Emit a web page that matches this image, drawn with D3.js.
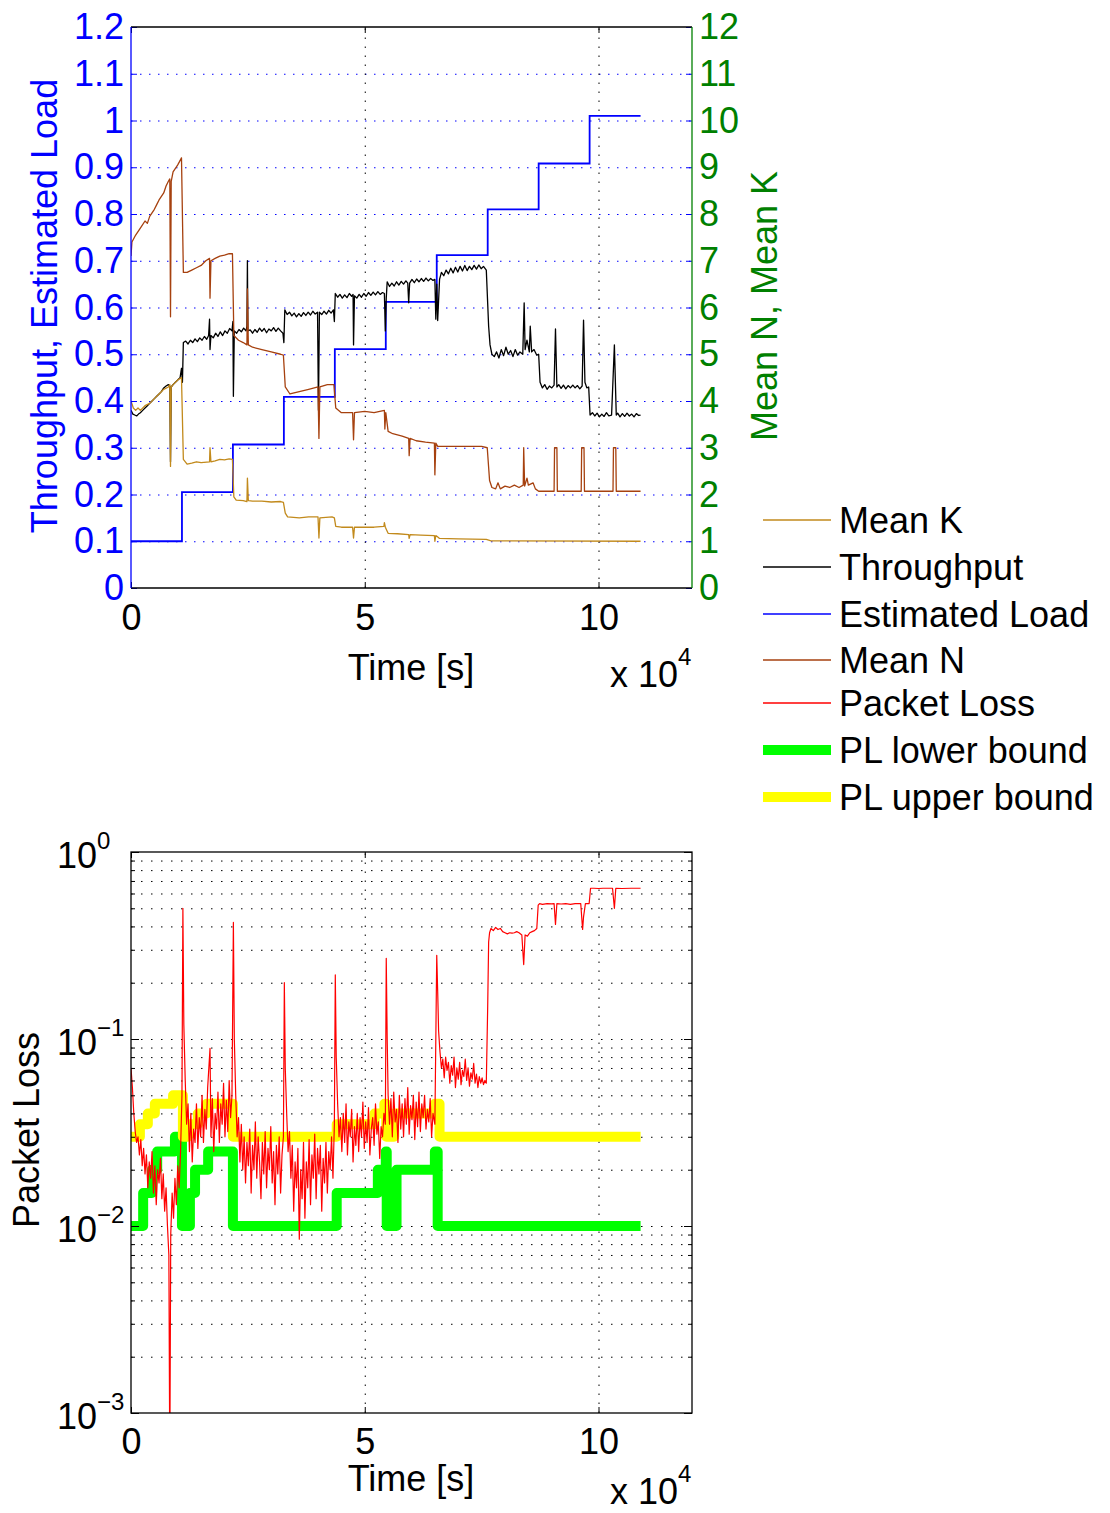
<!DOCTYPE html>
<html><head><meta charset="utf-8">
<script src="https://cdn.jsdelivr.net/npm/d3@7"></script>
<style>
body{margin:0;background:#fff}
svg{display:block}
text{font-family:"Liberation Sans",Arial,Helvetica,sans-serif}
</style>
</head><body>
<svg id="chart" width="1110" height="1513"></svg>
<script>
// ---------------- DATA (time in units of 10^4 s) ----------------
const xTicks = [0, 5, 10];
const leftTicks = [0,0.1,0.2,0.3,0.4,0.5,0.6,0.7,0.8,0.9,1,1.1,1.2];
const rightTicks = [0,1,2,3,4,5,6,7,8,9,10,11,12];
const logTicks = [1e-3, 1e-2, 1e-1, 1];
const logTickExp = ["\u22123", "\u22122", "\u22121", "0"];

// Estimated Load (left axis), step-after
const loadT = [0, 1.09, 2.18, 3.27, 4.36, 5.45, 6.54, 7.63, 8.72, 9.81, 10.9];
const loadV = [0.1, 0.205, 0.307, 0.409, 0.511, 0.612, 0.712, 0.81, 0.908, 1.01, 1.01];

// Throughput (left axis)
const thrT = [0,0.04,0.08,0.12,0.16,0.2,0.25,0.3,0.35,0.4,0.45,0.5,0.55,0.6,0.65,0.7,0.75,0.8,0.83,0.845,0.86,0.9,0.95,1.0,1.05,1.08,1.1,1.12,
 1.17,1.22,1.27,1.32,1.37,1.42,1.47,1.52,1.57,1.62,1.66,1.68,1.69,1.71,1.76,1.81,1.86,1.91,1.96,2.01,2.06,2.11,2.16,2.18,2.19,2.21,
 2.26,2.31,2.36,2.41,2.46,2.48,2.49,2.5,2.55,2.6,2.65,2.7,2.75,2.8,2.85,2.9,2.95,3.0,3.05,3.1,3.15,3.2,3.25,3.27,3.29,
 3.34,3.39,3.44,3.49,3.54,3.59,3.64,3.69,3.74,3.79,3.84,3.89,3.94,3.99,4.01,4.03,4.08,4.13,4.18,4.23,4.28,4.33,4.35,4.37,
 4.42,4.47,4.52,4.57,4.62,4.67,4.72,4.75,4.76,4.78,4.83,4.88,4.93,4.98,5.03,5.08,5.13,5.18,5.23,5.28,5.33,5.38,5.42,5.44,5.46,5.48,
 5.53,5.58,5.63,5.68,5.73,5.78,5.83,5.88,5.92,5.94,5.96,6.01,6.06,6.11,6.16,6.21,6.26,6.31,6.36,6.41,6.46,6.5,6.52,6.54,6.56,6.6,
 6.64,6.69,6.74,6.79,6.84,6.89,6.94,6.99,7.04,7.09,7.14,7.19,7.24,7.29,7.34,7.39,7.44,7.49,7.54,7.6,7.65,7.68,7.72,
 7.77,7.82,7.87,7.92,7.97,8.02,8.07,8.12,8.17,8.22,8.27,8.32,8.38,8.41,8.43,8.47,8.52,8.54,8.57,8.62,8.68,8.72,8.75,
 8.8,8.85,8.9,8.95,9.0,9.05,9.08,9.11,9.15,9.2,9.25,9.3,9.35,9.4,9.45,9.5,9.55,9.6,9.65,9.68,9.71,9.75,9.79,9.82,
 9.87,9.92,9.97,10.02,10.07,10.12,10.17,10.22,10.28,10.34,10.38,10.41,10.46,10.51,10.56,10.61,10.66,10.71,10.76,10.81,10.86,10.9];
const thrV = [0.38,0.372,0.37,0.368,0.372,0.375,0.38,0.385,0.39,0.395,0.4,0.405,0.41,0.415,0.42,0.428,0.432,0.435,0.432,0.27,0.43,0.435,0.44,0.445,0.45,0.47,0.44,0.525,
 0.528,0.522,0.53,0.525,0.533,0.527,0.535,0.53,0.538,0.532,0.54,0.575,0.51,0.54,0.535,0.545,0.538,0.548,0.54,0.55,0.545,0.555,0.55,0.57,0.41,0.55,
 0.545,0.553,0.548,0.556,0.55,0.56,0.70,0.55,0.552,0.545,0.553,0.547,0.556,0.549,0.555,0.546,0.554,0.55,0.557,0.549,0.556,0.55,0.545,0.525,0.595,
 0.585,0.59,0.582,0.588,0.58,0.587,0.581,0.589,0.583,0.59,0.584,0.592,0.586,0.59,0.38,0.59,0.585,0.592,0.586,0.594,0.588,0.595,0.57,0.63,
 0.622,0.628,0.62,0.627,0.621,0.63,0.624,0.628,0.52,0.625,0.62,0.628,0.622,0.63,0.624,0.632,0.626,0.633,0.627,0.634,0.628,0.632,0.63,0.55,0.62,0.655,
 0.645,0.652,0.646,0.655,0.648,0.656,0.65,0.657,0.652,0.61,0.652,0.66,0.653,0.661,0.655,0.662,0.656,0.663,0.657,0.662,0.658,0.66,0.575,0.65,0.572,0.66,
 0.675,0.668,0.68,0.672,0.684,0.674,0.686,0.676,0.688,0.678,0.69,0.679,0.688,0.681,0.69,0.682,0.691,0.683,0.688,0.68,0.56,0.52,0.5,
 0.495,0.505,0.492,0.51,0.497,0.515,0.5,0.508,0.495,0.51,0.498,0.505,0.5,0.61,0.51,0.53,0.505,0.56,0.505,0.51,0.498,0.5,0.44,
 0.428,0.435,0.425,0.432,0.428,0.434,0.554,0.43,0.435,0.427,0.434,0.426,0.433,0.428,0.434,0.428,0.433,0.426,0.432,0.573,0.44,0.428,0.43,0.37,
 0.375,0.368,0.374,0.366,0.372,0.367,0.375,0.368,0.37,0.52,0.37,0.374,0.366,0.373,0.367,0.374,0.368,0.372,0.366,0.373,0.369,0.37];

// Mean N (right axis)
const meanNT = [0,0.02,0.1,0.2,0.3,0.35,0.4,0.5,0.55,0.6,0.7,0.75,0.8,0.83,0.845,0.86,0.9,1.0,1.08,1.12,1.2,1.3,1.4,1.5,1.6,1.68,1.69,1.71,1.8,1.9,2.0,2.1,2.17,
 2.2,2.3,2.4,2.48,2.49,2.51,2.6,2.8,3.0,3.2,3.26,3.3,3.4,3.6,3.8,4.0,4.02,4.04,4.2,4.34,4.38,4.5,4.74,4.76,4.78,5.0,5.2,5.42,5.43,5.45,
 5.5,5.6,5.8,5.94,5.95,5.97,6.1,6.3,6.49,6.5,6.52,6.56,7.0,7.5,7.62,7.67,7.72,7.8,7.85,7.9,8.0,8.1,8.2,8.3,8.39,8.4,8.42,8.47,8.5,8.6,8.65,8.72,
 9.05,9.06,9.11,9.12,9.63,9.64,9.69,9.7,10.31,10.32,10.37,10.38,10.9];
const meanNV = [7.1,7.4,7.55,7.7,7.85,7.8,7.95,8.1,8.2,8.3,8.45,8.6,8.7,8.75,5.8,8.7,8.9,9.05,9.2,6.75,6.75,6.8,6.85,6.9,7.0,7.05,6.2,7.0,7.05,7.1,7.12,7.15,7.15,
 5.4,5.3,5.25,5.2,6.4,5.2,5.15,5.1,5.05,5.0,4.98,4.3,4.15,4.2,4.25,4.3,3.2,4.3,4.35,4.35,3.85,3.75,3.75,3.17,3.75,3.78,3.75,3.8,3.4,3.75,
 3.35,3.3,3.25,3.2,2.83,3.2,3.15,3.12,3.1,2.42,3.1,3.03,3.03,3.03,3.0,2.3,2.15,2.12,2.25,2.12,2.18,2.15,2.2,2.15,2.2,3.0,2.18,2.35,2.2,2.25,2.12,2.07,
 2.07,3.0,3.0,2.07,2.07,3.0,3.0,2.07,2.07,3.0,3.0,2.07,2.07];

// Mean K (right axis)
const meanKT = [0,0.05,0.1,0.15,0.2,0.3,0.4,0.5,0.6,0.7,0.8,0.83,0.845,0.86,0.9,1.0,1.08,1.12,1.2,1.3,1.4,1.5,1.68,1.69,1.71,1.8,1.9,2.0,2.1,2.17,
 2.2,2.25,2.4,2.48,2.49,2.51,2.6,2.8,3.0,3.2,3.26,3.3,3.35,3.6,3.8,4.0,4.02,4.04,4.3,4.35,4.38,4.5,4.74,4.76,4.78,5.0,5.2,5.41,5.42,5.44,5.45,
 5.5,5.7,5.94,5.95,5.97,6.2,6.49,6.5,6.52,6.55,6.6,7.0,7.6,7.7,10.9];
const meanKV = [4.0,3.85,3.8,3.85,3.8,3.9,3.95,4.05,4.15,4.25,4.3,4.35,2.6,4.3,4.35,4.45,4.5,2.75,2.65,2.67,2.7,2.68,2.7,3.0,2.7,2.72,2.75,2.74,2.76,2.75,
 1.95,1.88,1.87,1.85,2.35,1.87,1.86,1.86,1.84,1.85,1.83,1.6,1.52,1.5,1.52,1.52,1.07,1.5,1.52,1.5,1.32,1.3,1.3,1.07,1.3,1.3,1.3,1.32,1.4,1.3,1.28,
 1.17,1.16,1.14,1.06,1.14,1.13,1.12,1.0,1.12,1.1,1.06,1.05,1.04,1.01,1.0];

// Packet Loss (log axis)
const plT = [0,0.03,0.06,0.09,0.12,0.15,0.18,0.21,0.24,0.27,0.3,0.33,0.36,0.39,0.42,0.45,0.48,0.51,0.54,0.57,0.6,0.63,0.66,0.69,0.72,0.75,0.78,0.81,0.83,0.85,0.88,0.91,0.94,0.97,1.0,1.03,1.06,1.09,1.11,1.13,1.16,1.19,
 1.22,1.25,1.28,1.31,1.34,1.37,1.4,1.43,1.46,1.49,1.52,1.55,1.58,1.61,1.64,1.69,1.71,1.74,1.77,1.8,1.83,1.86,1.89,1.92,1.95,1.98,2.01,2.04,2.07,2.1,2.13,2.16,2.19,2.21,2.24,
 2.27,2.3,2.33,2.36,2.39,2.42,2.45,2.48,2.51,2.54,2.57,2.6,2.63,2.66,2.69,2.72,2.75,2.78,2.81,2.84,2.87,2.9,2.93,2.96,2.99,3.02,3.05,3.08,3.11,3.14,3.17,3.2,3.23,3.26,3.28,3.3,
 3.33,3.36,3.39,3.42,3.45,3.48,3.51,3.54,3.57,3.6,3.63,3.66,3.69,3.72,3.75,3.78,3.81,3.84,3.87,3.9,3.93,3.96,3.99,4.02,4.05,4.08,4.11,4.14,4.17,4.2,4.23,4.26,4.29,4.32,4.35,4.37,4.39,
 4.42,4.45,4.48,4.51,4.54,4.57,4.6,4.63,4.66,4.69,4.72,4.75,4.78,4.81,4.84,4.87,4.9,4.93,4.96,4.99,5.02,5.05,5.08,5.11,5.14,5.17,5.2,5.23,5.26,5.29,5.32,5.35,5.38,5.41,5.44,5.46,5.48,
 5.5,5.53,5.56,5.59,5.62,5.65,5.68,5.71,5.74,5.77,5.8,5.83,5.86,5.89,5.92,5.95,5.98,6.01,6.04,6.07,6.1,6.13,6.16,6.19,6.22,6.25,6.28,6.31,6.34,6.37,6.4,6.43,6.46,6.5,6.54,6.56,6.58,
 6.61,6.64,6.67,6.7,6.73,6.76,6.79,6.82,6.85,6.88,6.91,6.94,6.97,7.0,7.03,7.06,7.09,7.12,7.15,7.18,7.21,7.24,7.27,7.3,7.33,7.36,7.39,7.42,7.45,7.48,7.51,7.54,7.57,7.6,7.63,7.65,7.67,
 7.7,7.75,7.8,7.85,7.9,7.95,8.0,8.05,8.1,8.15,8.2,8.25,8.3,8.36,8.4,8.43,8.48,8.53,8.58,8.63,8.68,8.71,8.74,8.8,8.9,9.0,9.05,9.08,9.11,9.2,9.3,9.4,9.5,9.62,9.66,9.68,9.72,9.8,9.83,
 9.9,10.0,10.1,10.3,10.34,10.37,10.5,10.7,10.9];
const plV = [0.07,0.055,0.04,0.032,0.028,0.03,0.024,0.029,0.021,0.026,0.019,0.024,0.016,0.022,0.018,0.025,0.015,0.021,0.013,0.02,0.017,0.023,0.014,0.019,0.012,0.016,0.01,0.007,0.0005,0.009,0.015,0.011,0.018,0.013,0.021,0.016,0.025,0.05,0.5,0.12,0.06,0.035,
 0.045,0.025,0.04,0.022,0.033,0.028,0.045,0.026,0.038,0.03,0.05,0.028,0.042,0.033,0.055,0.089,0.03,0.048,0.025,0.04,0.033,0.052,0.028,0.045,0.035,0.058,0.03,0.047,0.032,0.06,0.038,0.05,0.42,0.1,0.05,
 0.03,0.038,0.022,0.035,0.02,0.03,0.017,0.028,0.021,0.033,0.015,0.027,0.02,0.036,0.018,0.03,0.022,0.014,0.028,0.019,0.032,0.016,0.026,0.02,0.034,0.017,0.025,0.013,0.027,0.019,0.03,0.015,0.024,0.03,0.2,0.07,
 0.04,0.025,0.032,0.018,0.027,0.012,0.022,0.016,0.026,0.0085,0.02,0.014,0.028,0.011,0.022,0.016,0.029,0.013,0.024,0.018,0.031,0.014,0.026,0.019,0.027,0.012,0.023,0.017,0.028,0.015,0.025,0.02,0.03,0.018,0.035,0.22,0.08,
 0.045,0.03,0.038,0.025,0.04,0.028,0.045,0.024,0.036,0.03,0.042,0.022,0.034,0.027,0.04,0.025,0.038,0.03,0.046,0.026,0.036,0.028,0.043,0.024,0.033,0.038,0.027,0.045,0.031,0.036,0.023,0.034,0.03,0.04,0.035,0.27,0.1,
 0.05,0.035,0.048,0.03,0.052,0.036,0.042,0.028,0.05,0.033,0.045,0.03,0.048,0.035,0.055,0.031,0.044,0.037,0.05,0.029,0.046,0.034,0.052,0.032,0.045,0.038,0.05,0.033,0.042,0.036,0.048,0.03,0.04,0.035,0.28,0.18,0.11,
 0.085,0.07,0.078,0.062,0.08,0.068,0.075,0.058,0.072,0.064,0.08,0.055,0.07,0.061,0.075,0.057,0.068,0.063,0.078,0.06,0.07,0.056,0.066,0.061,0.074,0.058,0.065,0.055,0.063,0.058,0.062,0.057,0.06,0.058,0.15,0.33,0.37,
 0.39,0.38,0.395,0.385,0.39,0.375,0.37,0.365,0.37,0.368,0.37,0.375,0.37,0.36,0.25,0.36,0.355,0.37,0.375,0.38,0.39,0.52,0.53,0.525,0.53,0.528,0.53,0.41,0.53,0.527,0.53,0.525,0.53,0.53,0.385,0.45,0.53,0.53,0.64,
 0.64,0.638,0.64,0.64,0.5,0.64,0.638,0.64,0.64];

// PL lower bound (step-after)
const plLowT = [0,0.26,0.45,0.56,0.94,1.09,1.26,1.37,1.65,2.18,4.4,5.28,5.45,5.47,5.68,6.5,6.56,10.9];
const plLowV = [0.01,0.015,0.02,0.025,0.03,0.01,0.015,0.02,0.025,0.01,0.015,0.02,0.025,0.01,0.02,0.025,0.01,0.01];
// PL upper bound (step-after)
const plUpT = [0,0.19,0.36,0.51,0.9,1.11,1.22,1.43,1.62,2.18,4.4,5.21,5.42,5.46,5.63,6.5,6.6,10.9];
const plUpV = [0.03,0.035,0.04,0.045,0.05,0.03,0.035,0.04,0.045,0.03,0.035,0.04,0.045,0.03,0.04,0.045,0.03,0.03];

const legendLabels = ["Mean K","Throughput","Estimated Load","Mean N","Packet Loss","PL lower bound","PL upper bound"];

(function(){
// ---------------- STYLE ----------------
const C = {blue:"#0000ff", green:"#008000", meanK:"#c28a1c", meanN:"#a6410f", thr:"#000000",
           pl:"#ff0000", plLow:"#00ff00", plUp:"#ffff00"};
const FS = 36;

const svg = d3.select("#chart");
const X0 = 131, X1 = 692;
const T0 = 27, T1 = 588;      // top plot
const B0 = 852, B1 = 1413;    // bottom plot

const x = d3.scaleLinear().domain([0, 12]).range([X0, X1]);
const yL = d3.scaleLinear().domain([0, 1.2]).range([T1, T0]);
const yR = d3.scaleLinear().domain([0, 12]).range([T1, T0]);
const yP = d3.scaleLog().domain([1e-3, 1]).range([B1, B0]);

const defs = svg.append("defs");
defs.append("clipPath").attr("id","clipTop").append("rect").attr("x",X0).attr("y",T0).attr("width",X1-X0).attr("height",T1-T0);
defs.append("clipPath").attr("id","clipBot").append("rect").attr("x",X0).attr("y",B0).attr("width",X1-X0).attr("height",B1-B0);

const zip = (a,b) => a.map((t,i)=>[t,b[i]]);

// ================= TOP CHART =================
const gt = svg.append("g");
gt.append("g").attr("transform",`translate(${X0},0)`)
  .call(d3.axisLeft(yL).tickValues(leftTicks.filter(v=>v>0 && v<1.2)).tickSize(-(X1-X0)).tickFormat(""))
  .call(g=>g.select(".domain").remove())
  .call(g=>g.selectAll("line").attr("stroke",C.blue).attr("stroke-width",1).attr("stroke-dasharray","1.5,7.5"));
gt.append("g").attr("transform",`translate(0,${T1})`)
  .call(d3.axisBottom(x).tickValues([5,10]).tickSize(-(T1-T0)).tickFormat(""))
  .call(g=>g.select(".domain").remove())
  .call(g=>g.selectAll("line").attr("stroke","#000").attr("stroke-width",1).attr("stroke-dasharray","1.5,7.5"));

const plotTop = gt.append("g").attr("clip-path","url(#clipTop)");
const lineL = d3.line().x(d=>x(d[0])).y(d=>yL(d[1]));
const lineR = d3.line().x(d=>x(d[0])).y(d=>yR(d[1]));
plotTop.append("path").datum(zip(loadT,loadV)).attr("d",lineL.curve(d3.curveStepAfter))
  .attr("fill","none").attr("stroke",C.blue).attr("stroke-width",1.8);
lineL.curve(d3.curveLinear);
plotTop.append("path").datum(zip(thrT,thrV)).attr("d",lineL)
  .attr("fill","none").attr("stroke",C.thr).attr("stroke-width",1.3).attr("stroke-linejoin","round");
plotTop.append("path").datum(zip(meanNT,meanNV)).attr("d",lineR)
  .attr("fill","none").attr("stroke",C.meanN).attr("stroke-width",1.3).attr("stroke-linejoin","round");
plotTop.append("path").datum(zip(meanKT,meanKV)).attr("d",lineR)
  .attr("fill","none").attr("stroke",C.meanK).attr("stroke-width",1.3).attr("stroke-linejoin","round");

function styleText(g, color){
  g.selectAll("text").attr("font-size",FS).attr("fill",color).attr("font-family","Liberation Sans, Arial, sans-serif");
}
const fmt1 = d => String(+d.toFixed(1));
gt.append("g").attr("transform",`translate(${X0},0)`)
  .call(d3.axisLeft(yL).tickValues(leftTicks).tickSizeInner(-6).tickSizeOuter(0).tickPadding(7).tickFormat(fmt1))
  .call(g=>g.select(".domain").remove())
  .call(g=>g.selectAll("line").attr("stroke",C.blue))
  .call(g=>styleText(g,C.blue));
gt.append("g").attr("transform",`translate(${X1},0)`)
  .call(d3.axisRight(yR).tickValues(rightTicks).tickSizeInner(-6).tickSizeOuter(0).tickPadding(7))
  .call(g=>g.select(".domain").remove())
  .call(g=>g.selectAll("line").attr("stroke",C.blue))
  .call(g=>styleText(g,C.green));
gt.append("g").attr("transform",`translate(0,${T1})`)
  .call(d3.axisBottom(x).tickValues(xTicks).tickSizeInner(-6).tickSizeOuter(0).tickPadding(16))
  .call(g=>g.select(".domain").remove())
  .call(g=>g.selectAll("line").attr("stroke","#000"))
  .call(g=>styleText(g,"#000"));
gt.append("g").attr("transform",`translate(0,${T0})`)
  .call(d3.axisTop(x).tickValues(xTicks).tickSizeInner(-6).tickSizeOuter(0).tickFormat(""))
  .call(g=>g.select(".domain").remove())
  .call(g=>g.selectAll("line").attr("stroke","#000"));
gt.append("line").attr("x1",X0).attr("x2",X1).attr("y1",T0).attr("y2",T0).attr("stroke","#000").attr("stroke-width",1.3);
gt.append("line").attr("x1",X0).attr("x2",X1).attr("y1",T1).attr("y2",T1).attr("stroke","#000").attr("stroke-width",1.3);
gt.append("line").attr("x1",X0).attr("x2",X0).attr("y1",T0).attr("y2",T1).attr("stroke",C.blue).attr("stroke-width",1.3);
gt.append("line").attr("x1",X1).attr("x2",X1).attr("y1",T0).attr("y2",T1).attr("stroke",C.green).attr("stroke-width",1.3);

gt.append("text").attr("x",411).attr("y",680).attr("text-anchor","middle").attr("font-size",FS).text("Time [s]");
const ex1 = gt.append("text").attr("x",610).attr("y",687).attr("font-size",FS);
ex1.append("tspan").text("x 10");
ex1.append("tspan").attr("font-size",24).attr("dy",-22).text("4");
gt.append("text").attr("transform","translate(57,306) rotate(-90)").attr("text-anchor","middle")
  .attr("font-size",FS).attr("fill",C.blue).text("Throughput, Estimated Load");
gt.append("text").attr("transform","translate(777,306) rotate(-90)").attr("text-anchor","middle")
  .attr("font-size",FS).attr("fill",C.green).text("Mean N, Mean K");

// ================= LEGEND =================
const legColors = [C.meanK, C.thr, C.blue, C.meanN, C.pl, C.plLow, C.plUp];
const legWidths = [1.5, 1.5, 1.5, 1.5, 1.5, 10, 10];
const legY = [520, 567, 614, 660, 703, 750, 797];
const leg = svg.append("g");
legendLabels.forEach((lab,i)=>{
  leg.append("line").attr("x1",763).attr("x2",831).attr("y1",legY[i]).attr("y2",legY[i])
    .attr("stroke",legColors[i]).attr("stroke-width",legWidths[i]);
  leg.append("text").attr("x",839).attr("y",legY[i]+13).attr("font-size",FS).attr("fill","#000").text(lab);
});

// ================= BOTTOM CHART =================
const gb = svg.append("g");
const minorVals = [];
[1e-3,1e-2,1e-1].forEach(d=>{ for(let k=2;k<=9;k++) minorVals.push(d*k); });
gb.append("g").attr("transform",`translate(${X0},0)`)
  .call(d3.axisLeft(yP).tickValues(minorVals.concat([1e-2,1e-1])).tickSize(-(X1-X0)).tickFormat(""))
  .call(g=>g.select(".domain").remove())
  .call(g=>g.selectAll("line").attr("stroke","#000").attr("stroke-width",1).attr("stroke-dasharray","1.5,8.5"));
gb.append("g").attr("transform",`translate(0,${B1})`)
  .call(d3.axisBottom(x).tickValues([5,10]).tickSize(-(B1-B0)).tickFormat(""))
  .call(g=>g.select(".domain").remove())
  .call(g=>g.selectAll("line").attr("stroke","#000").attr("stroke-width",1).attr("stroke-dasharray","1.5,7.5"));

const plotBot = gb.append("g").attr("clip-path","url(#clipBot)");
const lineP = d3.line().x(d=>x(d[0])).y(d=>yP(d[1]));
plotBot.append("path").datum(zip(plLowT,plLowV)).attr("d",lineP.curve(d3.curveStepAfter))
  .attr("fill","none").attr("stroke",C.plLow).attr("stroke-width",10).attr("stroke-linejoin","round");
plotBot.append("path").datum(zip(plUpT,plUpV)).attr("d",lineP.curve(d3.curveStepAfter))
  .attr("fill","none").attr("stroke",C.plUp).attr("stroke-width",10).attr("stroke-linejoin","round");
plotBot.append("path").datum(zip(plT,plV)).attr("d",lineP.curve(d3.curveLinear))
  .attr("fill","none").attr("stroke",C.pl).attr("stroke-width",1.2).attr("stroke-linejoin","round");

gb.append("g").attr("transform",`translate(${X0},0)`)
  .call(d3.axisLeft(yP).tickValues(logTicks).tickSizeInner(-8).tickSizeOuter(0).tickFormat(""))
  .call(g=>g.select(".domain").remove()).call(g=>g.selectAll("line").attr("stroke","#000"));
gb.append("g").attr("transform",`translate(${X0},0)`)
  .call(d3.axisLeft(yP).tickValues(minorVals).tickSizeInner(-4).tickSizeOuter(0).tickFormat(""))
  .call(g=>g.select(".domain").remove()).call(g=>g.selectAll("line").attr("stroke","#000"));
gb.append("g").attr("transform",`translate(${X1},0)`)
  .call(d3.axisRight(yP).tickValues(logTicks).tickSizeInner(-8).tickSizeOuter(0).tickFormat(""))
  .call(g=>g.select(".domain").remove()).call(g=>g.selectAll("line").attr("stroke","#000"));
gb.append("g").attr("transform",`translate(${X1},0)`)
  .call(d3.axisRight(yP).tickValues(minorVals).tickSizeInner(-4).tickSizeOuter(0).tickFormat(""))
  .call(g=>g.select(".domain").remove()).call(g=>g.selectAll("line").attr("stroke","#000"));
gb.append("g").attr("transform",`translate(0,${B1})`)
  .call(d3.axisBottom(x).tickValues(xTicks).tickSizeInner(-6).tickSizeOuter(0).tickPadding(15))
  .call(g=>g.select(".domain").remove())
  .call(g=>g.selectAll("line").attr("stroke","#000"))
  .call(g=>styleText(g,"#000"));
gb.append("g").attr("transform",`translate(0,${B0})`)
  .call(d3.axisTop(x).tickValues(xTicks).tickSizeInner(-6).tickSizeOuter(0).tickFormat(""))
  .call(g=>g.select(".domain").remove())
  .call(g=>g.selectAll("line").attr("stroke","#000"));
gb.append("rect").attr("x",X0).attr("y",B0).attr("width",X1-X0).attr("height",B1-B0)
  .attr("fill","none").attr("stroke","#000").attr("stroke-width",1.3);

logTicks.forEach((v,i)=>{
  const t = gb.append("text").attr("x",57).attr("y",yP(v)+16).attr("font-size",FS).attr("fill","#000");
  t.append("tspan").text("10");
  t.append("tspan").attr("font-size",24).attr("dy",-19).text(logTickExp[i]);
});

gb.append("text").attr("x",411).attr("y",1491).attr("text-anchor","middle").attr("font-size",FS).text("Time [s]");
const ex2 = gb.append("text").attr("x",610).attr("y",1504).attr("font-size",FS);
ex2.append("tspan").text("x 10");
ex2.append("tspan").attr("font-size",24).attr("dy",-22).text("4");
gb.append("text").attr("transform","translate(39,1130) rotate(-90)").attr("text-anchor","middle")
  .attr("font-size",FS).attr("fill","#000").text("Packet Loss");
})();
</script>
</body></html>
